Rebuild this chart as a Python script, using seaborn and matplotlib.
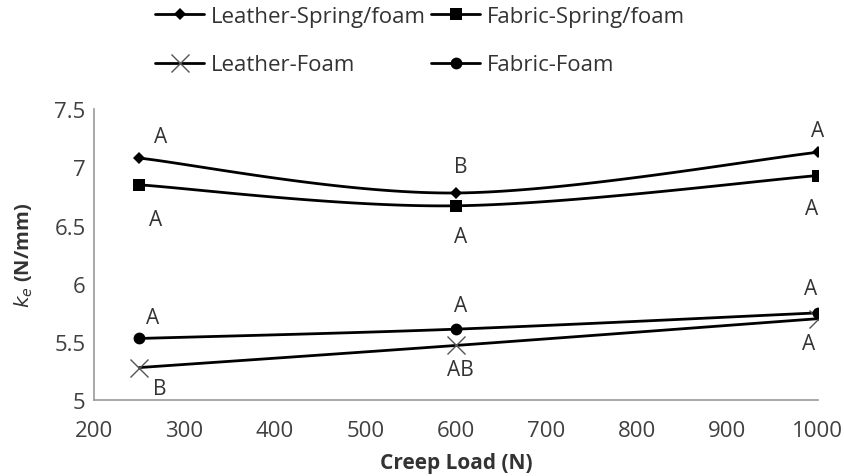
import numpy as np
import pandas as pd
import matplotlib
matplotlib.use("Agg")
import matplotlib.pyplot as plt
from matplotlib.lines import Line2D
import seaborn as sns

# ---- data ----
loads = [250, 600, 1000]
series_names = ["Leather-Spring/foam", "Fabric-Spring/foam", "Leather-Foam", "Fabric-Foam"]
leather_spring = [7.08, 6.78, 7.13]
fabric_spring = [6.85, 6.67, 6.93]
leather_foam = [5.28, 5.47, 5.70]
fabric_foam = [5.53, 5.61, 5.75]
letters_leather_spring = ["A", "B", "A"]
letters_fabric_spring = ["A", "A", "A"]
letters_leather_foam = ["B", "AB", "A"]
letters_fabric_foam = ["A", "A", "A"]
x_ticks = [200, 300, 400, 500, 600, 700, 800, 900, 1000]
y_ticks = [5, 5.5, 6, 6.5, 7, 7.5]

sns.set_theme(style="white")
plt.rcParams['font.family'] = ['Open Sans', 'DejaVu Sans']
plt.rcParams['mathtext.fontset'] = 'dejavusans'

fig = plt.figure(figsize=(8.44, 4.77), dpi=100)
ax = fig.add_axes([0.1114, 0.159, 0.969 - 0.1114, 0.769 - 0.159])


def smooth(xs, ys, n=40):
    """Excel-style smoothed line (cubic Bezier through the points)."""
    P = np.column_stack([xs, ys]).astype(float)
    out = []
    m = len(P)
    for i in range(m - 1):
        p0 = P[i]
        p3 = P[i + 1]
        prev = P[i - 1] if i > 0 else P[i]
        nxt = P[i + 2] if i + 2 < m else P[i + 1]
        c1 = p0 + (p3 - prev) / 6.0
        c2 = p3 - (nxt - p0) / 6.0
        t = np.linspace(0, 1, n)[:, None]
        seg = ((1 - t) ** 3) * p0 + 3 * ((1 - t) ** 2) * t * c1 + 3 * (1 - t) * t ** 2 * c2 + t ** 3 * p3
        out.append(seg if i == 0 else seg[1:])
    s = np.vstack(out)
    return s[:, 0], s[:, 1]


styles = {
    "Leather-Spring/foam": dict(marker="D", ms=6.5, mfc="black", mec="black", mew=0),
    "Fabric-Spring/foam": dict(marker="s", ms=9, mfc="black", mec="black", mew=0),
    "Leather-Foam": dict(marker="x", ms=13, mfc="none", mec="#555555", mew=1.0),
    "Fabric-Foam": dict(marker="o", ms=8.5, mfc="black", mec="black", mew=0),
}
values = [leather_spring, fabric_spring, leather_foam, fabric_foam]
letters = [letters_leather_spring, letters_fabric_spring, letters_leather_foam, letters_fabric_foam]
# letter offsets (pixels) relative to each data point
offsets = [
    [(21, 22), (5, 26), (0, 22)],
    [(16, -35), (5, -31), (-6, -33)],
    [(20, -21), (4, -24), (-9, -25)],
    [(13, 21), (5, 24), (-7, 24)],
]

for name, vals in zip(series_names, values):
    sx, sy = smooth(loads, vals)
    sns.lineplot(x=sx, y=sy, sort=False, color="black", lw=2.0, ax=ax, estimator=None)
    st = styles[name]
    ax.plot(loads, vals, linestyle="none", marker=st["marker"], ms=st["ms"],
            markerfacecolor=st["mfc"], markeredgecolor=st["mec"], markeredgewidth=st["mew"], zorder=5)

for vals, lets, offs in zip(values, letters, offsets):
    for xv, yv, lt, (dx, dy) in zip(loads, vals, lets, offs):
        ax.annotate(lt, (xv, yv), xytext=(dx * 0.72, dy * 0.72), textcoords="offset points",
                    ha="center", va="center", fontsize=15, color="#333333")

ax.set_xlim(200, 1000)
ax.set_ylim(5, 7.5)
ax.set_xticks(x_ticks)
ax.set_yticks(y_ticks)
ax.set_yticklabels([f"{v:g}" for v in y_ticks])
ax.tick_params(axis="both", direction="in", length=5, width=1, color="#999999",
               labelsize=16, labelcolor="#404040", pad=6)
ax.tick_params(axis="x", pad=14)
for s in ["top", "right"]:
    ax.spines[s].set_visible(False)
for s in ["left", "bottom"]:
    ax.spines[s].set_color("#999999")
    ax.spines[s].set_linewidth(1.2)

ax.set_xlabel("Creep Load (N)", fontsize=15, fontweight="bold", color="#333333", labelpad=8)
ax.set_ylabel(r"$k_e$ (N/mm)", fontsize=14.5, fontweight="bold", color="#333333", labelpad=14)

handles = {}
for name in series_names:
    st = styles[name]
    handles[name] = Line2D([0], [0], color="black", lw=2.0, marker=st["marker"], ms=st["ms"],
                           markerfacecolor=st["mfc"], markeredgecolor=st["mec"], markeredgewidth=st["mew"])
order = [series_names[0], series_names[2], series_names[1], series_names[3]]
fig.legend([handles[n] for n in order], order, loc="upper left", bbox_to_anchor=(0.184, 0.985), ncol=2,
           frameon=False, fontsize=16, handlelength=2.2, handletextpad=0.3, columnspacing=0.25,
           labelspacing=1.23, borderpad=0, borderaxespad=0, labelcolor="#333333")

fig.savefig("out.png", dpi=100)
